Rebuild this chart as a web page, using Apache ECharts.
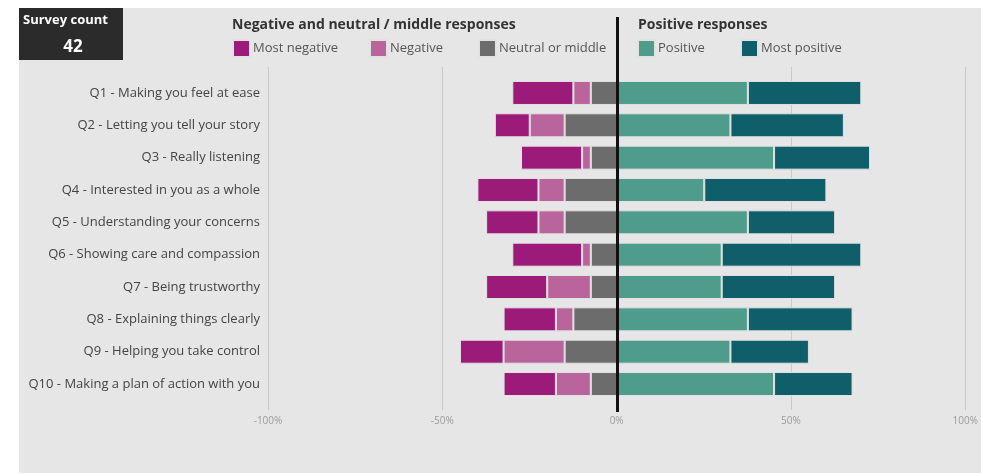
<!DOCTYPE html>
<html>
<head>
<meta charset="utf-8">
<script src="https://cdn.jsdelivr.net/npm/echarts@6/dist/echarts.min.js"></script>
<style>
  html, body { margin:0; padding:0; background:#ffffff; }
  #panel { position:absolute; left:19px; top:8px; width:962px; height:465px; background:#e6e6e6; }
  #chart { position:absolute; left:0; top:0; width:981px; height:474px; }
</style>
</head>
<body>
<div id="panel"></div>
<div id="chart"></div>
<script>
const categories = [
  'Q1 - Making you feel at ease',
  'Q2 - Letting you tell your story',
  'Q3 - Really listening',
  'Q4 - Interested in you as a whole',
  'Q5 - Understanding your concerns',
  'Q6 - Showing care and compassion',
  'Q7 - Being trustworthy',
  'Q8 - Explaining things clearly',
  'Q9 - Helping you take control',
  'Q10 - Making a plan of action with you'
];
const mostNegative = [17.5, 10, 17.5, 17.5, 15, 20, 17.5, 15, 12.5, 15];
const negative     = [5, 10, 2.5, 7.5, 7.5, 2.5, 12.5, 5, 17.5, 10];
const neutral      = [7.5, 15, 7.5, 15, 15, 7.5, 7.5, 12.5, 15, 7.5];
const positive     = [37.5, 32.5, 45, 25, 37.5, 30, 30, 37.5, 32.5, 45];
const mostPositive = [32.5, 32.5, 27.5, 35, 25, 40, 32.5, 30, 22.5, 22.5];
const xTicks = [-100, -50, 0, 50, 100];
const surveyCount = 42;

const colors = {
  'Most negative': '#9c1b79',
  'Negative': '#b9649b',
  'Neutral or middle': '#6c6c6c',
  'Positive': '#4f9c8a',
  'Most positive': '#0f5f6b'
};
const FONT = '"Open Sans", sans-serif';

const chart = echarts.init(document.getElementById('chart'), null, {renderer: 'canvas'});

function barSeries(name, vals, sign) {
  return {
    name: name, type: 'bar', stack: 'all', xAxisIndex: 0, yAxisIndex: 0,
    barWidth: 24,
    itemStyle: { color: colors[name], borderColor: '#e2e2e2', borderWidth: 1 },
    emphasis: { disabled: true },
    data: vals.map(v => v * sign)
  };
}

const legendCommon = {
  top: 39, padding: 0, itemWidth: 17, itemHeight: 17, icon: 'rect', selectedMode: false,
  textStyle: { fontFamily: FONT, fontSize: 13, color: '#555555', padding: [0, 0, 0, -2] }
};

const option = {
  animation: false,
  backgroundColor: 'transparent',
  title: [
    { text: 'Negative and neutral / middle responses', left: 232, top: 18, padding: 0,
      textStyle: { fontFamily: FONT, fontSize: 14, fontWeight: 'bold', color: '#333333' } },
    { text: 'Positive responses', left: 638, top: 18, padding: 0,
      textStyle: { fontFamily: FONT, fontSize: 14, fontWeight: 'bold', color: '#333333' } }
  ],
  legend: [
    Object.assign({ left: 232, data: ['Most negative'] }, legendCommon),
    Object.assign({ left: 369, data: ['Negative'] }, legendCommon),
    Object.assign({ left: 478, data: ['Neutral or middle'] }, legendCommon),
    Object.assign({ left: 637, data: ['Positive'] }, legendCommon),
    Object.assign({ left: 740, data: ['Most positive'] }, legendCommon)
  ],
  grid: [
    { left: 268, right: 15, top: 76.8, bottom: 73.8 },
    { left: 268, right: 15, top: 67, bottom: 64 },
    { left: 268, right: 15, top: 17, bottom: 62 }
  ],
  xAxis: [
    { gridIndex: 0, type: 'value', min: -100, max: 100, show: false },
    { gridIndex: 1, type: 'value', min: xTicks[0], max: xTicks[xTicks.length-1], interval: 50,
      axisLine: { show: false }, axisTick: { show: false },
      splitLine: { show: true, lineStyle: { color: '#c9c9c9', width: 1 } },
      axisLabel: { formatter: '{value}%', color: '#9a9a9a', fontSize: 10, fontFamily: FONT, margin: 6 } },
    { gridIndex: 2, type: 'value', min: -100, max: 100, show: false }
  ],
  yAxis: [
    { gridIndex: 0, type: 'category', data: categories, inverse: true,
      axisLine: { show: false }, axisTick: { show: false },
      axisLabel: { color: '#444444', fontSize: 13, fontFamily: FONT, margin: 8 } },
    { gridIndex: 1, type: 'value', show: false },
    { gridIndex: 2, type: 'value', show: false }
  ],
  graphic: [
    { type: 'rect', left: 19, top: 8, shape: { width: 104, height: 52 }, style: { fill: '#2b2b2b' } },
    { type: 'text', left: 23, top: 14, style: { text: 'Survey count', fill: '#ffffff',
      font: 'bold 13px ' + FONT } },
    { type: 'text', x: 73, y: 47, style: { text: String(surveyCount), fill: '#ffffff',
      font: 'bold 17px ' + FONT, textAlign: 'center', textVerticalAlign: 'middle' } }
  ],
  series: [
    barSeries('Neutral or middle', neutral, -1),
    barSeries('Negative', negative, -1),
    barSeries('Most negative', mostNegative, -1),
    barSeries('Positive', positive, 1),
    barSeries('Most positive', mostPositive, 1),
    { type: 'line', xAxisIndex: 2, yAxisIndex: 2, data: [], silent: true,
      markLine: { symbol: 'none', silent: true, label: { show: false },
        lineStyle: { color: '#111111', width: 3, type: 'solid' },
        data: [{ xAxis: 0 }] } }
  ]
};
chart.setOption(option);
</script>
</body>
</html>
